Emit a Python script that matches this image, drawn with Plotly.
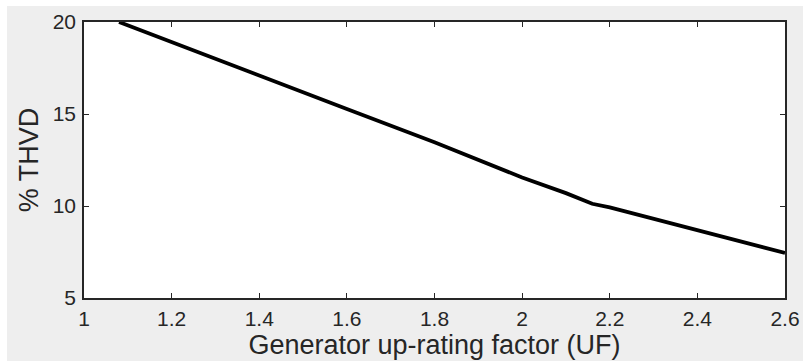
import plotly.graph_objects as go

# Data
uf = [1.08, 1.2, 1.4, 1.6, 1.8, 2.0, 2.1, 2.16, 2.2, 2.4, 2.6]
thvd = [20.0, 18.92, 17.10, 15.27, 13.46, 11.55, 10.7, 10.12, 9.92, 8.70, 7.45]

x_ticks = [1, 1.2, 1.4, 1.6, 1.8, 2, 2.2, 2.4, 2.6]
x_ticktext = ["1", "1.2", "1.4", "1.6", "1.8", "2", "2.2", "2.4", "2.6"]
y_ticks = [5, 10, 15, 20]

W, H = 803, 361
L, R, T, B = 84, 18, 22, 63
pw, ph = W - L - R, H - T - B
FONT = "Liberation Sans, Arial, sans-serif"

fig = go.Figure()
fig.add_trace(go.Scatter(x=uf, y=thvd, mode="lines",
                         line=dict(color="black", width=3.8),
                         showlegend=False, hoverinfo="skip"))

axis_common = dict(
    showline=True, linecolor="#262626", linewidth=1.5,
    mirror="ticks", ticks="inside", ticklen=5, tickwidth=1.2,
    tickcolor="#262626", showgrid=False, zeroline=False, automargin=False,
    tickfont=dict(family=FONT, size=21, color="#262626"),
)

fig.update_layout(
    width=W, height=H,
    margin=dict(l=L, r=R, t=T, b=B),
    paper_bgcolor="#eeeeee",
    plot_bgcolor="white",
    xaxis=dict(range=[1, 2.6], tickvals=x_ticks, ticktext=x_ticktext,
               ticklabelstandoff=1,
               title=dict(text="Generator up-rating factor (UF)", standoff=2,
                          font=dict(family=FONT, size=27, color="#262626")),
               **axis_common),
    yaxis=dict(range=[5, 20], tickvals=y_ticks,
               ticklabelstandoff=2,
               title=dict(text="% THVD", standoff=6,
                          font=dict(family=FONT, size=27, color="#262626")),
               **axis_common),
    shapes=[
        dict(type="rect", xref="paper", yref="paper", layer="below",
             x0=-L / pw, x1=-(L - 7) / pw, y0=-B / ph, y1=1 + T / ph,
             fillcolor="white", line=dict(width=0)),
        dict(type="rect", xref="paper", yref="paper", layer="below",
             x0=-L / pw, x1=1 + R / pw, y0=1 + (T - 6) / ph, y1=1 + T / ph,
             fillcolor="white", line=dict(width=0)),
    ],
)

fig.write_html("out.html")
